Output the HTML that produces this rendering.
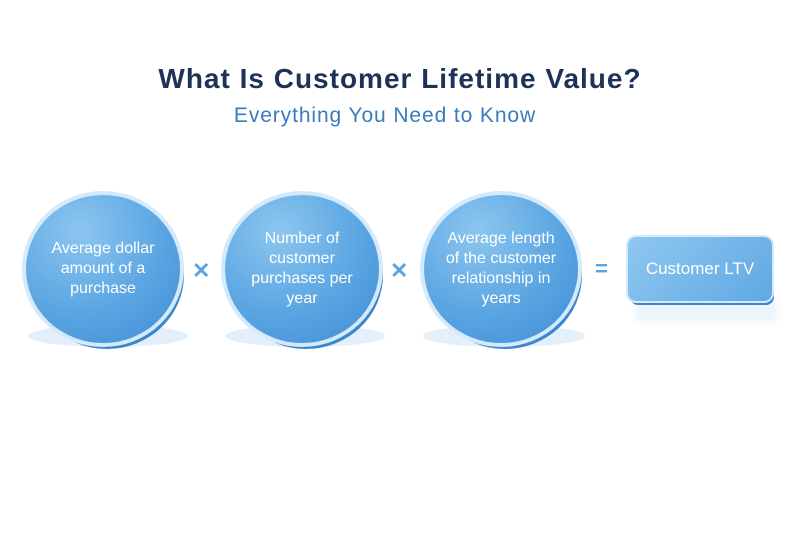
<!DOCTYPE html>
<html><head><style>
body{margin:0;width:800px;height:533px;background:#fff;font-family:"Liberation Sans",sans-serif;position:relative;overflow:hidden}
.t{position:absolute;left:0;width:800px;text-align:center}
.c{position:absolute;width:154px;height:148px;border-radius:50%;background:radial-gradient(circle at 35% 25%,#8cc6ef,#5aa5e2 55%,#3f8bd6);box-shadow:0 0 0 4px #d4eafb,4px 6px 0 #3a86cf;color:#fff;display:flex;align-items:center;justify-content:center;text-align:center;font-size:16px;line-height:20px}
.sh{position:absolute;height:22px;border-radius:50%;background:#e3f0fb}
.op{position:absolute;color:#5ba4e2;font-weight:bold;font-size:22px}
</style></head><body>
<div class="t" style="top:63px;font-size:28px;font-weight:bold;color:#1c3357;letter-spacing:1px">What Is Customer Lifetime Value?</div>
<div class="t" style="top:104px;left:-15px;font-size:21px;color:#3a7bc0;letter-spacing:0.9px">Everything You Need to Know</div>
<div class="sh" style="left:28px;top:325px;width:160px"></div>
<div class="sh" style="left:225px;top:325px;width:160px"></div>
<div class="sh" style="left:423px;top:325px;width:162px"></div>
<div class="c" style="left:26px;top:195px">Average dollar<br>amount of a<br>purchase</div>
<div class="c" style="left:225px;top:195px">Number of<br>customer<br>purchases per<br>year</div>
<div class="c" style="left:424px;top:195px">Average length<br>of the customer<br>relationship in<br>years</div>
<div class="op" style="left:192px;top:258px">✕</div>
<div class="op" style="left:390px;top:258px">✕</div>
<div class="op" style="left:595px;top:256px">=</div>
<div style="position:absolute;left:636px;top:300px;width:142px;height:22px;background:#edf5fc;border-radius:6px;filter:blur(3px)"></div>
<div style="position:absolute;left:628px;top:237px;width:144px;height:64px;border-radius:8px;background:linear-gradient(135deg,#8fc8f0,#5fa8e4);box-shadow:0 0 0 2px #d4eafb,2px 4px 0 #3a86cf;color:#fff;font-size:17px;display:flex;align-items:center;justify-content:center">Customer LTV</div>
</body></html>
